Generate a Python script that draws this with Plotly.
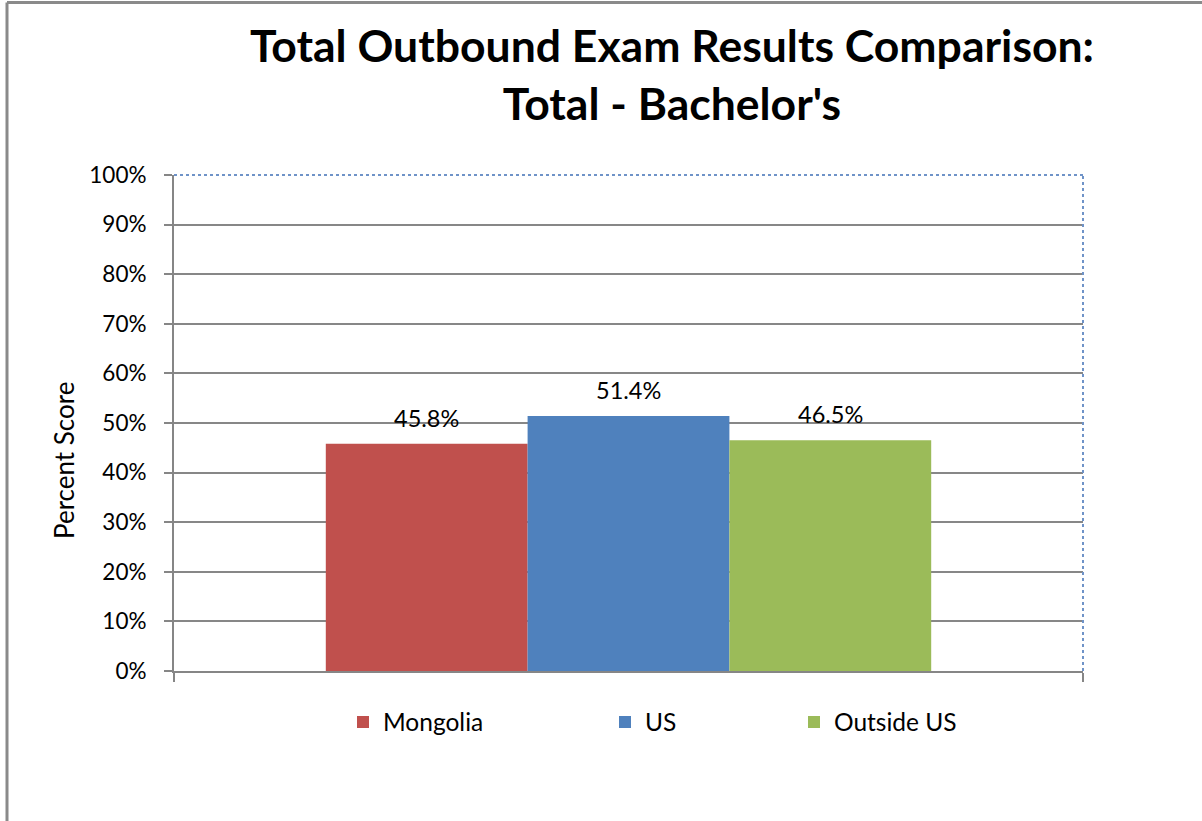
import plotly.graph_objects as go

categories = [""]
series_names = ["Mongolia", "US", "Outside US"]
series_values = [[45.8], [51.4], [46.5]]
series_colors = ["#C0504D", "#4F81BD", "#9BBB59"]
y_ticks = [0, 10, 20, 30, 40, 50, 60, 70, 80, 90, 100]
y_tick_labels = [f"{v}%" for v in y_ticks]
y_title = "Percent Score"

FONT = "Lato, Carlito, Calibri, 'Liberation Sans', sans-serif"
W, H = 1202, 821
L, R, T, B = 174, 119, 175, 150
BARGAP = 0.334

pw = W - L - R
ph = H - T - B
def px(x):
    return (x - L) / pw
def py(y):
    return (H - B - y) / ph

fig = go.Figure()
legend_ids = ["legend", "legend2", "legend3"]
for name, vals, col, lg in zip(series_names, series_values, series_colors, legend_ids):
    fig.add_trace(go.Bar(
        x=categories, y=vals, name=name, marker=dict(color=col, line=dict(width=0)),
        legend=lg, hoverinfo="name+y",
    ))

# data labels above bars (positions derived from group geometry)
bw = (1 - BARGAP) / len(series_names)
annotations = []
for i, vals in enumerate(series_values):
    for j, v in enumerate(vals):
        annotations.append(dict(
            x=j - (1 - BARGAP) / 2 + bw * (i + 0.5), y=v, xref="x", yref="y",
            text=f"{v:.1f}%", showarrow=False, yanchor="bottom", yshift=10,
            font=dict(family=FONT, size=23.5, color="#000000"),
        ))
# y-axis title (placed like the reference, slightly below plot centre)
annotations.append(dict(
    x=px(64), y=py(461), xref="paper", yref="paper", text=y_title, textangle=-90,
    showarrow=False, xanchor="center", yanchor="middle",
    font=dict(family=FONT, size=26, color="#000000"),
))

legend_x_px = [343, 605, 794]
legend_common = dict(orientation="h", yanchor="middle", xanchor="left",
                     font=dict(family=FONT, size=24.5, color="#000000"),
                     bgcolor="rgba(0,0,0,0)", itemwidth=30)
layout_legends = {}
for lg, xp in zip(legend_ids, legend_x_px):
    layout_legends[lg] = dict(legend_common, x=px(xp), y=py(722))

shapes = [
    dict(type="line", xref="paper", yref="paper", x0=px(7), x1=px(1215), y0=py(2.5), y1=py(2.5),
         line=dict(color="#8A8A8A", width=3)),
    dict(type="line", xref="paper", yref="paper", x0=px(7), x1=px(7), y0=py(2.5), y1=py(830),
         line=dict(color="#8A8A8A", width=3)),
    dict(type="line", xref="paper", yref="paper", x0=0, x1=1, y0=1, y1=1,
         line=dict(color="#6F93C8", width=2, dash="dot"), layer="above"),
    dict(type="line", xref="paper", yref="paper", x0=1, x1=1, y0=0, y1=1,
         line=dict(color="#6F93C8", width=2, dash="dot"), layer="above"),
]

fig.update_layout(
    width=W, height=H,
    margin=dict(l=L, r=R, t=T, b=B, pad=0),
    paper_bgcolor="#FFFFFF", plot_bgcolor="#FFFFFF",
    barmode="group", bargap=BARGAP, bargroupgap=0,
    title=dict(text="<b>Total Outbound Exam Results Comparison:<br>Total - Bachelor's</b>",
               x=672 / W, xanchor="center", y=1 - 62 / H, yanchor="top",
               font=dict(family=FONT, size=44.5, color="#000000")),
    showlegend=True,
    shapes=shapes,
    annotations=annotations,
    **layout_legends,
)
fig.update_xaxes(
    type="category", range=[-0.5, 0.5], showgrid=False,
    showline=True, linecolor="#868686", linewidth=2,
    ticks="outside", tickson="boundaries", ticklen=9, tickcolor="#868686", tickwidth=2,
    showticklabels=False, zeroline=False,
)
fig.update_yaxes(
    range=[0, 100], tickvals=y_ticks, ticktext=y_tick_labels,
    showgrid=True, gridcolor="#878787", gridwidth=2,
    showline=True, linecolor="#868686", linewidth=2,
    ticks="outside", ticklen=8, tickcolor="#868686", tickwidth=2,
    ticklabelstandoff=13,
    tickfont=dict(family=FONT, size=22.5, color="#000000"),
    zeroline=False,
)

fig.write_html("out.html", config={"displayModeBar": False},
               post_script="document.body.style.margin='0';document.body.style.overflow='hidden';")
